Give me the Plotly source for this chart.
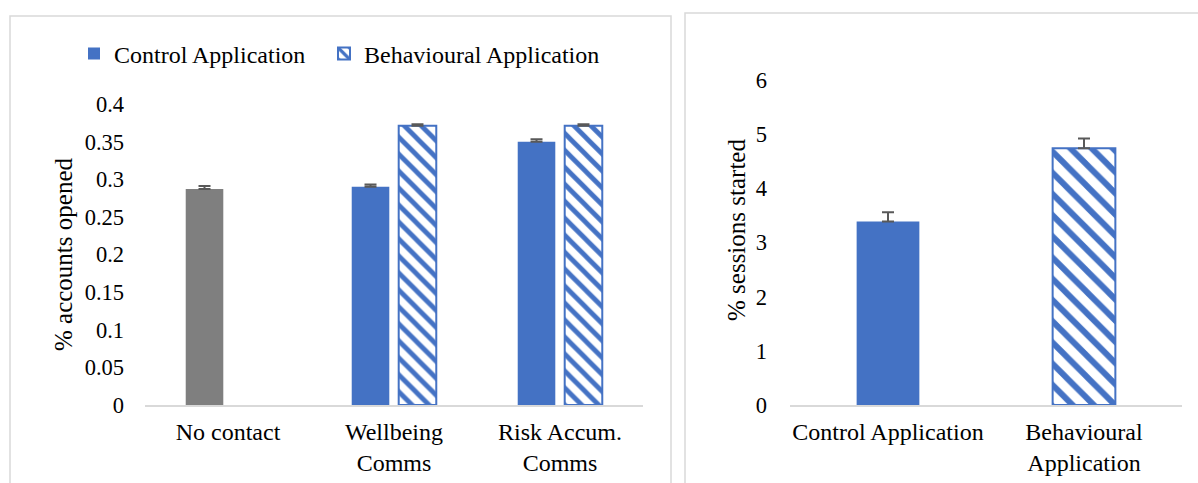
import plotly.graph_objects as go

# ---- data ----
left_categories = ["No contact", "Wellbeing<br>Comms", "Risk Accum.<br>Comms"]
no_contact_value = [0.287]
no_contact_err = [0.004]
left_control = [None, 0.290, 0.350]
left_control_err = [0, 0.003, 0.003]
left_behav = [None, 0.371, 0.371]
left_behav_err = [0, 0.002, 0.002]

right_categories = ["Control Application", "Behavioural<br>Application"]
right_values = [3.39, 4.74]
right_err = [0.17, 0.18]

left_ticks = [0, 0.05, 0.1, 0.15, 0.2, 0.25, 0.3, 0.35, 0.4]
left_ticktext = ["0", "0.05", "0.1", "0.15", "0.2", "0.25", "0.3", "0.35", "0.4"]
right_ticks = [0, 1, 2, 3, 4, 5, 6]

BLUE = "#4472C4"
GRAY = "#7F7F7F"
ERR = "#595959"
FONT = "Liberation Serif"
FS = 24
TFS = 22.5

W, H = 1198, 483
def px_x(x): return x / W
def px_y(y): return 1 - y / H

fig = go.Figure()

# gray "No contact" bar shares the control slot
fig.add_trace(go.Bar(
    x=left_categories[:1], y=no_contact_value, name="No contact",
    marker=dict(color=GRAY, line=dict(width=0)), offsetgroup="ctrl",
    error_y=dict(type="data", array=no_contact_err, arrayminus=[0],
                 symmetric=False, color=ERR, thickness=2, width=6),
    xaxis="x", yaxis="y", showlegend=False,
))
fig.add_trace(go.Bar(
    x=left_categories, y=left_control, name="Control Application",
    marker=dict(color=BLUE, line=dict(width=0)), offsetgroup="ctrl",
    error_y=dict(type="data", array=left_control_err, arrayminus=[0, 0, 0],
                 symmetric=False, color=ERR, thickness=2, width=6),
    xaxis="x", yaxis="y", legend="legend",
))
fig.add_trace(go.Bar(
    x=left_categories, y=left_behav, name="Behavioural Application",
    marker=dict(color="white", line=dict(color=BLUE, width=2),
                pattern=dict(shape="\\", fgcolor=BLUE, fgopacity=1, size=12, solidity=0.4)),
    offsetgroup="beh",
    error_y=dict(type="data", array=left_behav_err, arrayminus=[0, 0, 0],
                 symmetric=False, color=ERR, thickness=2, width=6),
    xaxis="x", yaxis="y", legend="legend2",
))

# right panel: one bar per category, centred in its slot
fig.add_trace(go.Bar(
    x=right_categories[:1], y=right_values[:1], name="Control Application",
    marker=dict(color=BLUE, line=dict(width=0)),
    error_y=dict(type="data", array=right_err[:1], arrayminus=[0],
                 symmetric=False, color=ERR, thickness=2, width=6),
    xaxis="x2", yaxis="y2", showlegend=False, width=0.32, offsetgroup="r",
))
fig.add_trace(go.Bar(
    x=right_categories[1:], y=right_values[1:], name="Behavioural Application",
    marker=dict(color="white", line=dict(color=BLUE, width=2),
                pattern=dict(shape="\\", fgcolor=BLUE, fgopacity=1, size=15, solidity=0.4)),
    error_y=dict(type="data", array=right_err[1:], arrayminus=[0],
                 symmetric=False, color=ERR, thickness=2, width=6),
    xaxis="x2", yaxis="y2", showlegend=False, width=0.32, offsetgroup="r",
))

axis_font = dict(family=FONT, size=FS, color="black")
tick_font = dict(family=FONT, size=TFS, color="black")
leg_font = dict(family=FONT, size=FS, color="black")

fig.update_layout(
    width=W, height=H,
    margin=dict(l=0, r=0, t=0, b=0, autoexpand=False),
    paper_bgcolor="white", plot_bgcolor="white",
    font=dict(family=FONT, size=FS, color="black"),
    barmode="group", bargap=0.434, bargroupgap=0.2,
    xaxis=dict(domain=[px_x(145), px_x(643)], anchor="y",
               showline=True, linecolor="#D9D9D9", linewidth=1.5,
               showgrid=False, ticks="", tickfont=axis_font, ticklabelstandoff=4),
    yaxis=dict(domain=[px_y(405), px_y(104)], anchor="x", range=[0, 0.4],
               tickvals=left_ticks, ticktext=left_ticktext,
               showline=False, showgrid=False, zeroline=False, ticks="",
               tickfont=tick_font, ticklabelstandoff=20),
    xaxis2=dict(domain=[px_x(790), px_x(1182)], anchor="y2",
                showline=True, linecolor="#D9D9D9", linewidth=1.5,
                showgrid=False, ticks="", tickfont=axis_font, ticklabelstandoff=4),
    yaxis2=dict(domain=[px_y(405), px_y(80)], anchor="x2", range=[0, 6],
                tickvals=right_ticks,
                showline=False, showgrid=False, zeroline=False, ticks="",
                tickfont=tick_font, ticklabelstandoff=22),
    legend=dict(orientation="h", x=px_x(74), y=px_y(54), xanchor="left", yanchor="middle",
                font=leg_font, bgcolor="rgba(0,0,0,0)"),
    legend2=dict(orientation="h", x=px_x(324), y=px_y(54), xanchor="left", yanchor="middle",
                 font=leg_font, bgcolor="rgba(0,0,0,0)"),
    showlegend=True,
    annotations=[
        dict(text="% accounts opened", x=px_x(63), y=px_y(255), xref="paper", yref="paper",
             textangle=-90, showarrow=False, font=dict(family=FONT, size=25, color="black"),
             xanchor="center", yanchor="middle"),
        dict(text="% sessions started", x=px_x(736), y=px_y(230), xref="paper", yref="paper",
             textangle=-90, showarrow=False, font=dict(family=FONT, size=25, color="black"),
             xanchor="center", yanchor="middle"),
    ],
    shapes=[
        dict(type="rect", xref="paper", yref="paper",
             x0=px_x(10), x1=px_x(671), y0=-0.2, y1=px_y(16),
             line=dict(color="#D9D9D9", width=1.5), fillcolor="rgba(0,0,0,0)", layer="below"),
        dict(type="rect", xref="paper", yref="paper",
             x0=px_x(685), x1=px_x(1215), y0=-0.2, y1=px_y(13),
             line=dict(color="#D9D9D9", width=1.5), fillcolor="rgba(0,0,0,0)", layer="below"),
    ],
)

fig.write_html("out.html", config={"displayModeBar": False},
               post_script="document.body.style.margin='0px';")
